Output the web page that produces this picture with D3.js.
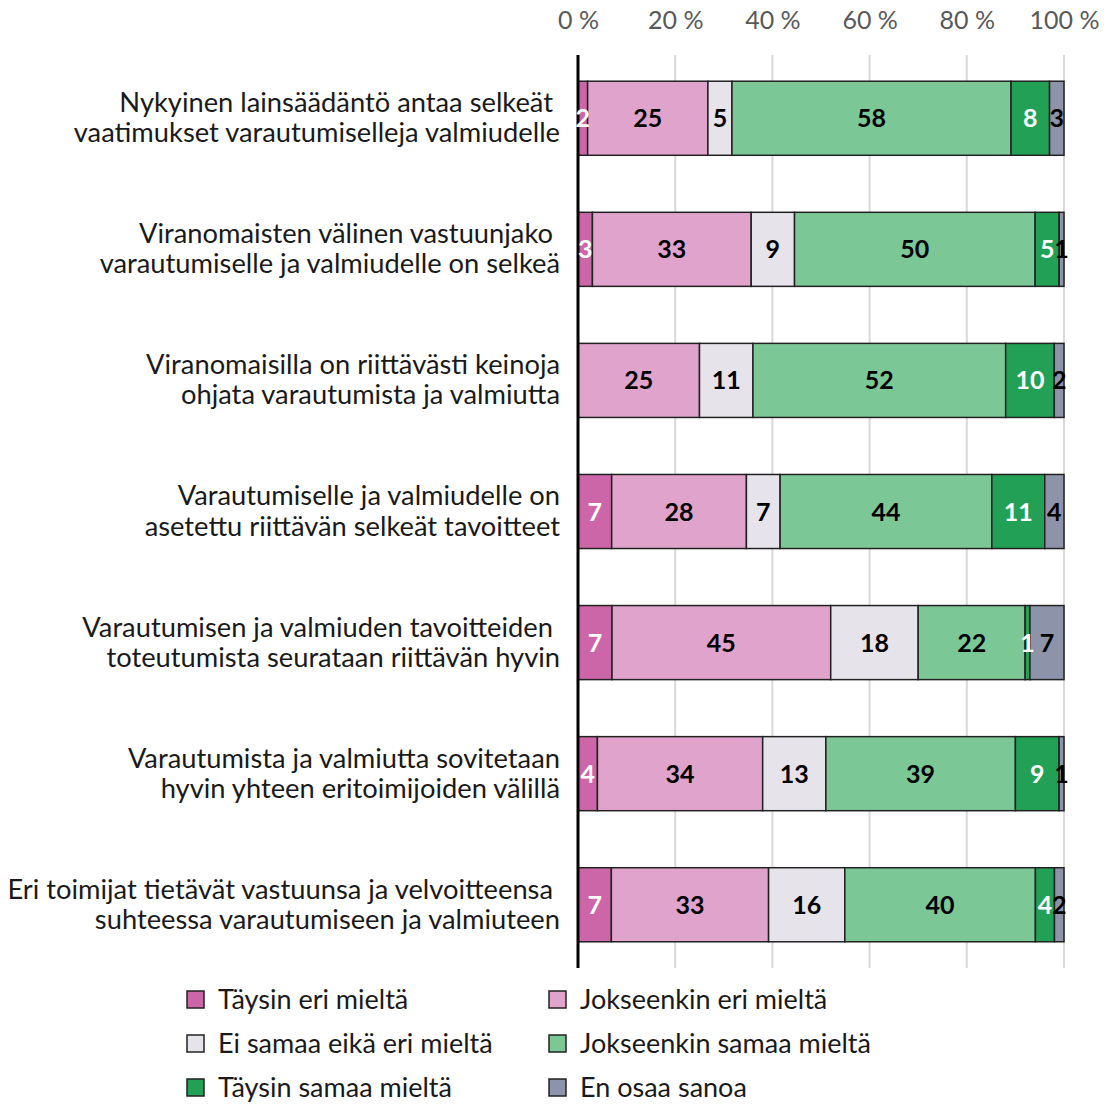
<!DOCTYPE html>
<html>
<head>
<meta charset="utf-8">
<script src="https://cdn.jsdelivr.net/npm/d3@7"></script>
<style>
  body { margin: 0; background: #fff; }
  svg text { font-family: Lato, "Noto Sans", sans-serif; }
</style>
</head>
<body>
<div class="chart"></div>
<script>
// Horizontal stacked bar chart, survey answers (%)

var svgWidth = 1104;
var svgHeight = 1104;

var questions = [
    ["Nykyinen lainsäädäntö antaa selkeät ", "vaatimukset varautumiselleja valmiudelle"],
    ["Viranomaisten välinen vastuunjako ", "varautumiselle ja valmiudelle on selkeä"],
    ["Viranomaisilla on riittävästi keinoja", "ohjata varautumista ja valmiutta"],
    ["Varautumiselle ja valmiudelle on", "asetettu riittävän selkeät tavoitteet"],
    ["Varautumisen ja valmiuden tavoitteiden ", "toteutumista seurataan riittävän hyvin"],
    ["Varautumista ja valmiutta sovitetaan", "hyvin yhteen eritoimijoiden välillä"],
    ["Eri toimijat tietävät vastuunsa ja velvoitteensa ", "suhteessa varautumiseen ja valmiuteen"]
];

var answers = ["Täysin eri mieltä", "Jokseenkin eri mieltä", "Ei samaa eikä eri mieltä",
    "Jokseenkin samaa mieltä", "Täysin samaa mieltä", "En osaa sanoa"];

var colors = ["#cc66a8", "#e0a3cb", "#e6e3ea", "#7cc796", "#22a055", "#8d93a9"];
var labelColors = ["#fff", "#000", "#000", "#000", "#fff", "#000"];

// values per answer, in question order
var taysinEri = [2, 3, 0, 7, 7, 4, 7];
var jokseenkinEri = [25, 33, 25, 28, 45, 34, 33];
var eiSamaaEikaEri = [5, 9, 11, 7, 18, 13, 16];
var jokseenkinSamaa = [58, 50, 52, 44, 22, 39, 40];
var taysinSamaa = [8, 5, 10, 11, 1, 9, 4];
var enOsaa = [3, 1, 2, 4, 7, 1, 2];

var series = [taysinEri, jokseenkinEri, eiSamaaEikaEri, jokseenkinSamaa, taysinSamaa, enOsaa];

var xTicks = [0, 20, 40, 60, 80, 100];

var margin = { top: 55, left: 578, right: 40, bottom: 136 };
var width = 486;
var height = 913;

var svg = d3.select(".chart")
    .append("svg")
    .attr("width", svgWidth)
    .attr("height", svgHeight);

var chartGroup = svg.append("g")
    .attr("transform", `translate(${margin.left}, ${margin.top})`);

var xScale = d3.scaleLinear().domain([0, 100]).range([0, width]);

var yScale = d3.scaleBand()
    .domain(d3.range(questions.length))
    .range([0, height])
    .paddingInner(0.435)
    .paddingOuter(0.2);

// grid lines
chartGroup.append("g")
    .selectAll("line")
    .data(xTicks.slice(1))
    .enter()
    .append("line")
    .attr("x1", d => xScale(d))
    .attr("x2", d => xScale(d))
    .attr("y1", 0)
    .attr("y2", height)
    .attr("stroke", "#d9d9d9")
    .attr("stroke-width", 2);

// top axis labels
var topAxis = d3.axisTop(xScale)
    .tickValues(xTicks)
    .tickSize(0)
    .tickPadding(0)
    .tickFormat(d => d + " %");

var axisG = chartGroup.append("g")
    .attr("transform", "translate(0, -26)")
    .call(topAxis);
axisG.select(".domain").remove();
axisG.selectAll("text")
    .attr("fill", "#595959")
    .style("font-size", "25px");

// build stacked rows, normalised so every bar ends at 100
var rows = questions.map(function (q, i) {
    var vals = series.map(s => s[i]);
    var total = d3.sum(vals);
    var acc = 0;
    return vals.map(function (v, k) {
        var seg = { row: i, k: k, value: v, x0: acc / total * 100, x1: (acc + v) / total * 100 };
        acc += v;
        return seg;
    });
});
var segments = rows.flat();

chartGroup.selectAll("rect.seg")
    .data(segments.filter(d => d.value > 0))
    .enter()
    .append("rect")
    .attr("class", "seg")
    .attr("x", d => xScale(d.x0))
    .attr("width", d => xScale(d.x1) - xScale(d.x0))
    .attr("y", d => yScale(d.row))
    .attr("height", yScale.bandwidth())
    .attr("fill", d => colors[d.k])
    .attr("stroke", "#222")
    .attr("stroke-width", 1.5);

// axis line
chartGroup.append("line")
    .attr("x1", 0).attr("x2", 0)
    .attr("y1", 0).attr("y2", height)
    .attr("stroke", "#000")
    .attr("stroke-width", 3);

// value labels
chartGroup.selectAll("text.val")
    .data(segments.filter(d => d.value > 0))
    .enter()
    .append("text")
    .attr("class", "val")
    .attr("x", d => xScale((d.x0 + d.x1) / 2))
    .attr("y", d => yScale(d.row) + yScale.bandwidth() / 2)
    .attr("dy", "0.36em")
    .attr("text-anchor", "middle")
    .attr("fill", d => labelColors[d.k])
    .style("font-size", "25px")
    .style("font-weight", "bold")
    .text(d => d.value);

// category labels
var catG = chartGroup.selectAll("text.cat")
    .data(questions)
    .enter()
    .append("text")
    .attr("class", "cat")
    .attr("text-anchor", "end")
    .attr("fill", "#1a1a1a")
    .style("font-size", "27.3px")
    .style("white-space", "pre")
    .attr("y", (d, i) => yScale(i) + yScale.bandwidth() / 2);

catG.selectAll("tspan")
    .data(d => d)
    .enter()
    .append("tspan")
    .attr("x", -18)
    .attr("dy", (d, j) => j == 0 ? "-0.22em" : "1.1em")
    .text(d => d);

// legend
var legend = svg.append("g")
    .attr("transform", "translate(187, 1000)");

var legendItems = legend.selectAll("g")
    .data(answers)
    .enter()
    .append("g")
    .attr("transform", (d, i) => `translate(${(i % 2) * 362}, ${Math.floor(i / 2) * 44})`);

legendItems.append("rect")
    .attr("x", 0)
    .attr("y", -9)
    .attr("width", 17)
    .attr("height", 17)
    .attr("fill", (d, i) => colors[i])
    .attr("stroke", "#222")
    .attr("stroke-width", 1.5);

legendItems.append("text")
    .attr("x", 31)
    .attr("y", 0)
    .attr("dy", "0.33em")
    .attr("fill", "#1a1a1a")
    .style("font-size", "27px")
    .text(d => d);
</script>
</body>
</html>
